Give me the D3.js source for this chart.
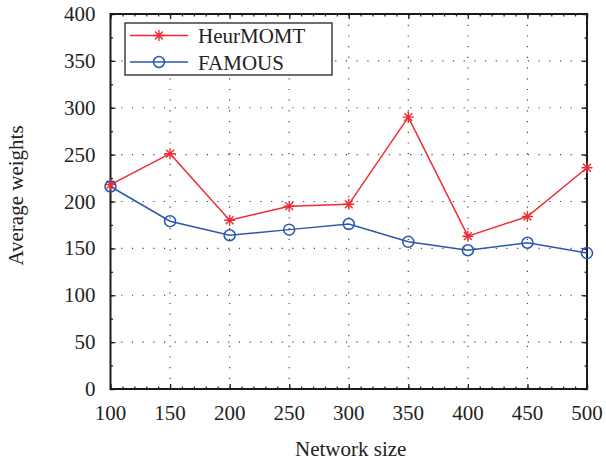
<!DOCTYPE html>
<html>
<head>
<meta charset="utf-8">
<script src="https://cdn.jsdelivr.net/npm/d3@7"></script>
<style>
  body { margin: 0; background: #fff; }
  svg text { font-family: "Liberation Serif", "DejaVu Serif", serif; fill: #222; }
</style>
</head>
<body>
<div id="chart"></div>
<script>
// data
const sizes = [100, 150, 200, 250, 300, 350, 400, 450, 500];
const heurMOMT = [218, 251, 180, 195, 197, 290, 163, 184, 236];
const famous = [216, 179, 164, 170, 176, 157, 148, 156, 145];
const xTicks = [100, 150, 200, 250, 300, 350, 400, 450, 500];
const yTicks = [0, 50, 100, 150, 200, 250, 300, 350, 400];

const W = 606, H = 459;
const margin = {top: 14, right: 19, bottom: 70, left: 110.5};
const width = W - margin.left - margin.right,
      height = H - margin.top - margin.bottom;

const red = "#ee2b33", blue = "#2a57b0";
const serif = "'Liberation Serif', 'DejaVu Serif', serif";
const fs = "21px";

const svg = d3.select("#chart").append("svg")
    .attr("width", W).attr("height", H)
    .attr("font-family", serif)
  .append("g")
    .attr("transform", `translate(${margin.left},${margin.top})`);

const x = d3.scaleLinear().domain([100, 500]).range([0, width]);
const y = d3.scaleLinear().domain([0, 400]).range([height, 0]);

// dotted grid
svg.append("g").selectAll("line")
  .data(xTicks.slice(1, -1)).join("line")
    .attr("x1", d => x(d)).attr("x2", d => x(d))
    .attr("y1", 0).attr("y2", height)
    .attr("stroke", "#444").attr("stroke-width", 1.2)
    .attr("stroke-dasharray", "1.2,9.5");
svg.append("g").selectAll("line")
  .data(yTicks.slice(1, -1)).join("line")
    .attr("x1", 0).attr("x2", width)
    .attr("y1", d => y(d)).attr("y2", d => y(d))
    .attr("stroke", "#444").attr("stroke-width", 1.2)
    .attr("stroke-dasharray", "1.2,9.5");

// inward ticks on all four sides
const xMinor = d3.range(100, 501, 10), yMinor = d3.range(0, 401, 25);
svg.append("g").call(d3.axisBottom(x).tickValues(xMinor).tickSize(-2.5).tickFormat(""))
  .attr("transform", `translate(0,${height})`).call(g => g.select(".domain").remove());
svg.append("g").call(d3.axisBottom(x).tickValues(xTicks).tickSize(-5).tickFormat(""))
  .attr("transform", `translate(0,${height})`).call(g => g.select(".domain").remove());
svg.append("g").call(d3.axisTop(x).tickValues(xMinor).tickSize(-2.5).tickFormat(""))
  .call(g => g.select(".domain").remove());
svg.append("g").call(d3.axisTop(x).tickValues(xTicks).tickSize(-5).tickFormat(""))
  .call(g => g.select(".domain").remove());
svg.append("g").call(d3.axisLeft(y).tickValues(yMinor).tickSize(-2.5).tickFormat(""))
  .call(g => g.select(".domain").remove());
svg.append("g").call(d3.axisLeft(y).tickValues(yTicks).tickSize(-5).tickFormat(""))
  .call(g => g.select(".domain").remove());
svg.append("g").call(d3.axisRight(y).tickValues(yMinor).tickSize(-2.5).tickFormat(""))
  .attr("transform", `translate(${width},0)`).call(g => g.select(".domain").remove());
svg.append("g").call(d3.axisRight(y).tickValues(yTicks).tickSize(-5).tickFormat(""))
  .attr("transform", `translate(${width},0)`).call(g => g.select(".domain").remove());
svg.selectAll(".tick line").attr("stroke", "#222").attr("stroke-width", 1.3);

// tick labels
svg.append("g").selectAll("text")
  .data(xTicks).join("text")
    .attr("x", d => x(d)).attr("y", height + 31)
    .attr("text-anchor", "middle")
    .attr("font-family", serif)
    .style("font-size", fs)
    .text(d => d);
svg.append("g").selectAll("text")
  .data(yTicks).join("text")
    .attr("x", -15).attr("y", d => y(d) + 7)
    .attr("text-anchor", "end")
    .attr("font-family", serif)
    .style("font-size", fs)
    .text(d => d);

// frame
svg.append("rect")
  .attr("width", width).attr("height", height)
  .attr("fill", "none").attr("stroke", "#1a1a1a").attr("stroke-width", 2);

// axis titles
svg.append("text")
  .attr("x", width / 2 + 2).attr("y", height + 66.5)
  .attr("text-anchor", "middle")
  .attr("font-family", serif)
  .style("font-size", fs)
  .text("Network size");
svg.append("text")
  .attr("transform", `translate(${-88},${height / 2 - 6}) rotate(-90)`)
  .attr("text-anchor", "middle")
  .attr("font-family", serif)
  .style("font-size", fs)
  .text("Average weights");

// lines
const line = d3.line().x((d, i) => x(sizes[i])).y(d => y(d));
svg.append("path").datum(heurMOMT)
  .attr("d", line).attr("fill", "none").attr("stroke", red).attr("stroke-width", 1.5);
svg.append("path").datum(famous)
  .attr("d", line).attr("fill", "none").attr("stroke", blue).attr("stroke-width", 1.5);

// markers: MATLAB style '*' (plus overlaid with x)
function asterisk(g, cx, cy) {
  const r = 5.5;
  const a = r * Math.SQRT1_2;
  g.append("path")
    .attr("d", `M${cx - r},${cy}L${cx + r},${cy}M${cx},${cy - r}L${cx},${cy + r}` +
               `M${cx - a},${cy - a}L${cx + a},${cy + a}M${cx - a},${cy + a}L${cx + a},${cy - a}`)
    .attr("stroke", red).attr("stroke-width", 1.4).attr("fill", "none");
}
const redMarks = svg.append("g");
heurMOMT.forEach((v, i) => asterisk(redMarks, x(sizes[i]), y(v)));
svg.append("g").selectAll("circle")
  .data(famous).join("circle")
    .attr("cx", (d, i) => x(sizes[i])).attr("cy", d => y(d))
    .attr("r", 5.5)
    .attr("fill", "none").attr("stroke", blue).attr("stroke-width", 1.5);

// legend
const lg = svg.append("g").attr("transform", `translate(${125 - margin.left},${23 - margin.top})`);
lg.append("rect").attr("width", 207).attr("height", 52)
  .attr("fill", "#fff").attr("stroke", "#222").attr("stroke-width", 1.3);
lg.append("line").attr("x1", 5).attr("x2", 63).attr("y1", 12.5).attr("y2", 12.5)
  .attr("stroke", red).attr("stroke-width", 1.5);
asterisk(lg, 34, 12.5);
lg.append("line").attr("x1", 5).attr("x2", 63).attr("y1", 39).attr("y2", 39)
  .attr("stroke", blue).attr("stroke-width", 1.5);
lg.append("circle").attr("cx", 34).attr("cy", 39).attr("r", 5.5)
  .attr("fill", "none").attr("stroke", blue).attr("stroke-width", 1.5);
lg.append("text").attr("x", 73).attr("y", 20).attr("font-family", serif)
  .style("font-size", fs).text("HeurMOMT");
lg.append("text").attr("x", 73).attr("y", 46.5).attr("font-family", serif)
  .style("font-size", fs).text("FAMOUS");
</script>
</body>
</html>
